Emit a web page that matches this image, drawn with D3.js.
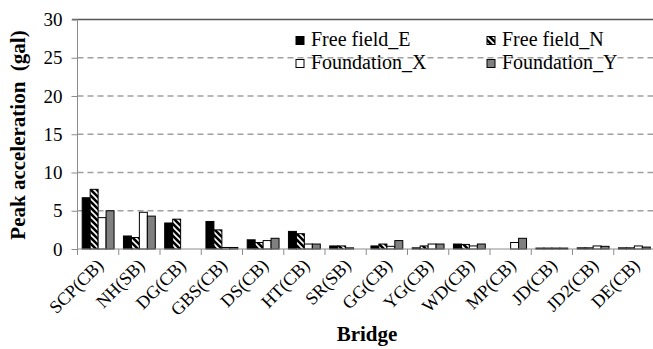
<!DOCTYPE html>
<html>
<head>
<meta charset="utf-8">
<style>
	body{ margin:0; background:#fff; }
	svg{ display:block; }
	.grid line{ stroke:#a0a0a0; stroke-width:1.5px; stroke-dasharray:6,4; }
	.axis path, .axis line{ stroke:#8c8c8c; }
	.axis text{ font-family:"Liberation Serif", "Times New Roman", serif; font-size:19px; fill:#000; }
	.axis .xlab{ font-size:18px; }
	.bar{ stroke:#000; stroke-width:1px; }
	.legend text{ font-family:"Liberation Serif", "Times New Roman", serif; font-size:20px; }
	.title{ font-family:"Liberation Serif", "Times New Roman", serif; font-weight:bold; font-size:21px; }
</style>
<script src="https://d3js.org/d3.v7.min.js"></script>
</head>
<body>
<div id="chart"></div>
<script>
	// data
	var bridges = ['SCP(CB)','NH(SB)','DG(CB)','GBS(CB)','DS(CB)','HT(CB)','SR(SB)','GG(CB)','YG(CB)','WD(CB)','MP(CB)','JD(CB)','JD2(CB)','DE(CB)'];
	var seriesNames = ['Free field_E','Free field_N','Foundation_X','Foundation_Y'];
	var freeE = [6.7, 1.7, 3.4, 3.6, 1.2, 2.3, 0.4, 0.4, 0.15, 0.65, 0, 0.12, 0.15, 0.15];
	var freeN = [7.8, 1.5, 3.9, 2.5, 0.85, 2.0, 0.4, 0.65, 0.4, 0.6, 0, 0.12, 0.15, 0.15];
	var foundX = [4.1, 4.8, 0, 0.2, 1.1, 0.65, 0.15, 0.35, 0.65, 0.4, 0.85, 0.12, 0.4, 0.4];
	var foundY = [5.0, 4.3, 0, 0.2, 1.4, 0.65, 0, 1.1, 0.65, 0.65, 1.4, 0.12, 0.35, 0.25];
	var yTicks = [0, 5, 10, 15, 20, 25, 30];

	var width = 653, height = 349;
	var plotLeft = 77.5, plotRight = 655, plotTop = 19.5, plotBottom = 249;

	var series = [freeE, freeN, foundX, foundY];
	var fills = ['#000', 'url(#hatch)', '#fff', '#808080'];

	var svg = d3.select('#chart').append('svg')
		.attr('width', width).attr('height', height);

	// wide downward diagonal hatch
	var pat = svg.append('defs').append('pattern')
		.attr('id', 'hatch')
		.attr('patternUnits', 'userSpaceOnUse')
		.attr('width', 6).attr('height', 6);
	pat.append('rect').attr('width', 6).attr('height', 6).attr('fill', '#000');
	pat.append('path').attr('d', 'M-1,-1 L7,7 M-4,2 L2,8 M4,-2 L8,2')
		.attr('stroke', '#fff').attr('stroke-width', 1.6);

	var xScale = d3.scaleBand().domain(bridges).range([plotLeft, plotRight]);
	var xInner = d3.scaleBand().domain(d3.range(4))
		.range([4.7, xScale.bandwidth() - 4.7]);
	var yScale = d3.scaleLinear().domain([0, 30]).range([plotBottom, plotTop]);

	// gridlines
	svg.append('g').attr('class', 'grid')
		.selectAll('line')
		.data(yTicks.filter(function(d){ return d > 0 && d < 30; }))
		.enter().append('line')
		.attr('x1', plotLeft).attr('x2', width)
		.attr('y1', function(d){ return yScale(d); })
		.attr('y2', function(d){ return yScale(d); });

	// top line
	svg.append('line')
		.attr('x1', 72).attr('x2', width)
		.attr('y1', yScale(30)).attr('y2', yScale(30))
		.attr('stroke', '#555').attr('stroke-width', 1.5);

	// bars
	series.forEach(function(vals, s){
		svg.append('g').selectAll('rect')
			.data(vals)
			.enter().append('rect')
			.attr('class', 'bar')
			.attr('x', function(d, i){ return xScale(bridges[i]) + xInner(s); })
			.attr('width', xInner.bandwidth())
			.attr('y', function(d){ return yScale(d); })
			.attr('height', function(d){ return plotBottom - yScale(d); })
			.attr('fill', fills[s]);
	});

	// y axis
	var yAxisG = svg.append('g').attr('class', 'axis')
		.attr('transform', 'translate(' + plotLeft + ',0)')
		.call(d3.axisLeft(yScale).tickValues(yTicks).tickSize(6).tickPadding(9));
	yAxisG.select('.domain').attr('d', 'M0,' + plotTop + 'V' + plotBottom);

	// x axis with ticks at band edges
	var xAxisG = svg.append('g').attr('class', 'axis')
		.attr('transform', 'translate(0,' + plotBottom + ')');
	xAxisG.append('line').attr('x1', plotLeft).attr('x2', width);
	xAxisG.selectAll('.tk')
		.data(bridges)
		.enter().append('line')
		.attr('class', 'tk')
		.attr('x1', function(d){ return xScale(d); })
		.attr('x2', function(d){ return xScale(d); })
		.attr('y1', 0).attr('y2', 6);
	xAxisG.selectAll('text')
		.data(bridges)
		.enter().append('text')
		.attr('class', 'xlab')
		.attr('text-anchor', 'end')
		.attr('transform', function(d){
			return 'translate(' + (xScale(d) + xScale.bandwidth() / 2 + 2) + ',13) rotate(-45)';
		})
		.attr('dy', '0.35em')
		.text(function(d){ return d; });

	// axis titles
	svg.append('text').attr('class', 'title')
		.attr('text-anchor', 'middle')
		.attr('x', 367).attr('y', 341)
		.text('Bridge');
	svg.append('text').attr('class', 'title')
		.attr('text-anchor', 'middle')
		.attr('transform', 'translate(25,135) rotate(-90)')
		.attr('xml:space', 'preserve')
		.text('Peak acceleration  (gal)');

	// legend
	var legend = svg.append('g').attr('class', 'legend');
	seriesNames.forEach(function(name, i){
		var lx = i % 2 === 0 ? 296 : 487;
		var ly = i < 2 ? 40 : 63;
		legend.append('rect')
			.attr('x', lx).attr('y', ly - 3.5)
			.attr('width', 8).attr('height', 8)
			.attr('fill', fills[i]).attr('stroke', '#000').attr('stroke-width', 1);
		legend.append('text')
			.attr('x', lx + 15).attr('y', ly + 6)
			.text(name);
	});
</script>
</body>
</html>
